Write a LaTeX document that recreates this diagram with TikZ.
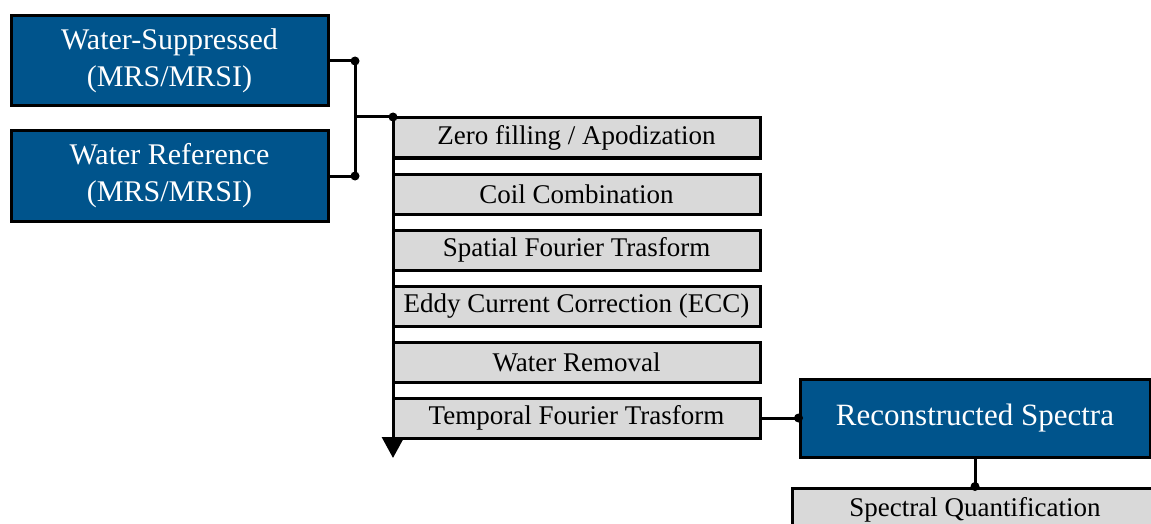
\documentclass[tikz,border=0pt]{standalone}
\usepackage{fontspec}
\setmainfont{Liberation Serif}
\usetikzlibrary{arrows.meta}
\definecolor{mrsblue}{RGB}{0,84,140}
\definecolor{stepgray}{RGB}{217,217,217}

\begin{document}
\begin{tikzpicture}
  [x=1pt,y=-1pt,line width=3pt,
   blue box/.style={draw,fill=mrsblue,text=white,inner sep=0pt,align=center,
     minimum width=317pt,minimum height=90pt,font=\fontsize{30}{37}\selectfont},
   gray box/.style={draw,fill=stepgray,inner sep=0pt,
     minimum width=367pt,minimum height=40pt,font=\fontsize{27}{30}\selectfont},
   dot/.style={circle,fill=black,inner sep=0pt,minimum size=9pt}]
  \useasboundingbox (0,0) rectangle (1151,524);
  \clip (0,0) rectangle (1151,524);

  \node[blue box] (ws) at (169.5,61) {Water-Suppressed\\(MRS/MRSI)};
  \node[blue box] (wr) at (169.5,176) {Water Reference\\(MRS/MRSI)};

  \node[gray box] (zf) at (576.5,138) {Zero filling / Apodization};
  \node[gray box] (cc) at (576.5,194) {Coil Combination};
  \node[gray box] (sft) at (576.5,250) {Spatial Fourier Trasform};
  \node[gray box] (ecc) at (576.5,306) {Eddy Current Correction (ECC)};
  \node[gray box] (wrm) at (576.5,362) {Water Removal};
  \node[gray box] (tft) at (576.5,418) {Temporal Fourier Trasform};

  \node[blue box,minimum width=350pt,minimum height=78pt,
    font=\fontsize{31}{37}\selectfont] (rs) at (975,418) {Reconstructed Spectra};
  \node[gray box,minimum width=366pt,minimum height=44pt] (sq) at (975,510) {Spectral Quantification};

  \coordinate (j1) at (355,61);
  \coordinate (j2) at (355,176);
  \coordinate (mid) at (355,117);
  \coordinate (j3) at (393,117);
  \coordinate (tip) at (393,458);

  \foreach \from/\to in {ws/j1,wr/j2,j1/j2,mid/j3,tft/rs,rs/sq}
    \draw (\from) -- (\to);
  \draw[-{Triangle[width=22pt,length=21pt]}] (j3) -- (tip);

  \node[dot] (d1) at (j1) {};
  \node[dot] (d2) at (j2) {};
  \node[dot] (d3) at (j3) {};
  \node[dot] (d4) at (rs.west) {};
  \node[dot] (d5) at (sq.north) {};
\end{tikzpicture}
\end{document}
